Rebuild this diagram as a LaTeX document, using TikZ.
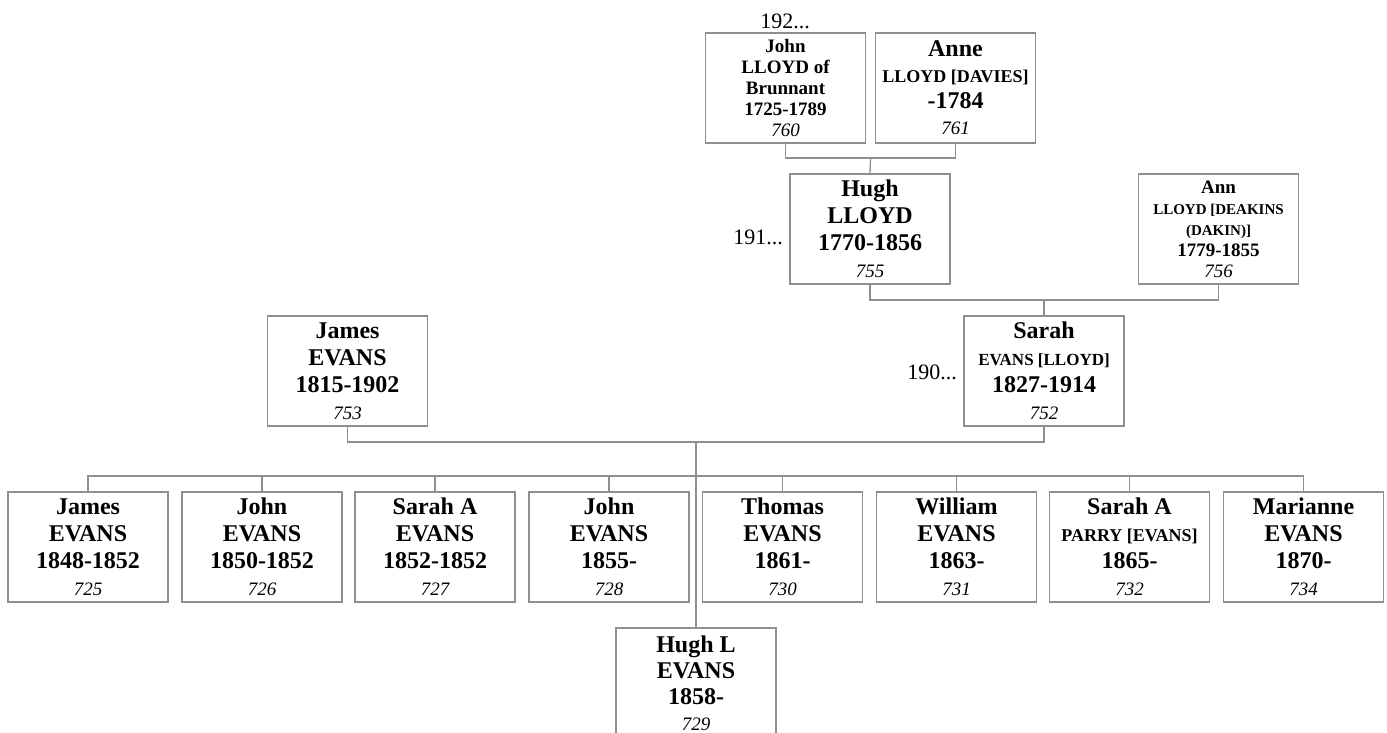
\documentclass[tikz,border=0pt]{standalone}
\usepackage{fontspec}
\setmainfont{Liberation Serif}
\definecolor{lg}{gray}{0.56}
\newcommand{\idn}[1]{{\mdseries\itshape\fontsize{19}{21}\selectfont #1}}
\newcommand{\smallnm}[2]{{\fontsize{#1}{#1}\selectfont #2}}
\begin{document}
\begin{tikzpicture}[x=1pt,y=-1pt,
  pbox/.style={draw=lg, line width=1.3pt, fill=white, minimum width=160pt, minimum height=110pt,
    inner sep=0pt, align=center, font=\bfseries\fontsize{24}{27}\selectfont},
  sbox/.style={pbox, font=\bfseries\fontsize{19}{21}\selectfont},
  link/.style={draw=lg, line width=1.3pt},
  gen/.style={font=\fontsize{22}{24}\selectfont, inner sep=0pt}
]
\useasboundingbox (0,0) rectangle (1387,733);
\clip (0,0) rectangle (1387,733);

% generation 192
\node[sbox] (john) at (785.5,88) {John\\LLOYD of\\Brunnant\\1725-1789\\\idn{760}};
\node[pbox, font=\bfseries\fontsize{24}{26}\selectfont] (anne) at (955.5,88) {Anne\\\smallnm{18}{LLOYD [DAVIES]}\\-1784\\\idn{761}};
\node[gen] (g192) at (785,21) {192...};

% generation 191
\node[pbox] (hugh) at (870,229) {Hugh\\LLOYD\\1770-1856\\\idn{755}};
\node[sbox] (ann) at (1218.5,229) {Ann\\\smallnm{15}{LLOYD [DEAKINS}\\\smallnm{15}{(DAKIN)]}\\1779-1855\\\idn{756}};
\node[gen] (g191) at (758,237) {191...};

% generation 190
\node[pbox] (james) at (347.5,371) {James\\EVANS\\1815-1902\\\idn{753}};
\node[pbox] (sarah) at (1044,371) {Sarah\\\smallnm{17}{EVANS [LLOYD]}\\1827-1914\\\idn{752}};
\node[gen] (g190) at (932,372) {190...};

% children
\node[pbox] (c1) at (88,547) {James\\EVANS\\1848-1852\\\idn{725}};
\node[pbox] (c2) at (262,547) {John\\EVANS\\1850-1852\\\idn{726}};
\node[pbox] (c3) at (435,547) {Sarah A\\EVANS\\1852-1852\\\idn{727}};
\node[pbox] (c4) at (609,547) {John\\EVANS\\1855-\\\idn{728}};
\node[pbox] (c5) at (782.5,547) {Thomas\\EVANS\\1861-\\\idn{730}};
\node[pbox] (c6) at (956.5,547) {William\\EVANS\\1863-\\\idn{731}};
\node[pbox] (c7) at (1129.5,547) {Sarah A\\\smallnm{18}{PARRY [EVANS]}\\1865-\\\idn{732}};
\node[pbox] (c8) at (1303.5,547) {Marianne\\EVANS\\1870-\\\idn{734}};
\node[pbox, font=\bfseries\fontsize{24}{26}\selectfont] (c9) at (696,683) {Hugh L\\EVANS\\1858-\\\idn{729}};

% bus points
\coordinate (b1) at (870.5,158);
\coordinate (b2) at (1044,300);
\coordinate (b3) at (696,442);
\coordinate (b4) at (696,476);

\path[link] (john.south) |- (b1) -| (anne.south);
\path[link] (b1) -- (hugh.north);
\path[link] (hugh.south) |- (b2) -| (ann.south);
\path[link] (b2) -- (sarah.north);
\path[link] (james.south) |- (b3) -| (sarah.south);
\path[link] (b3) -- (c9.north);
\path[link] (c1.north) |- (b4) -| (c8.north);
\foreach \c in {c2,c3,c4,c5,c6,c7}{
  \path[link] (\c.north) -- (\c.north |- b4);
}
\end{tikzpicture}
\end{document}
